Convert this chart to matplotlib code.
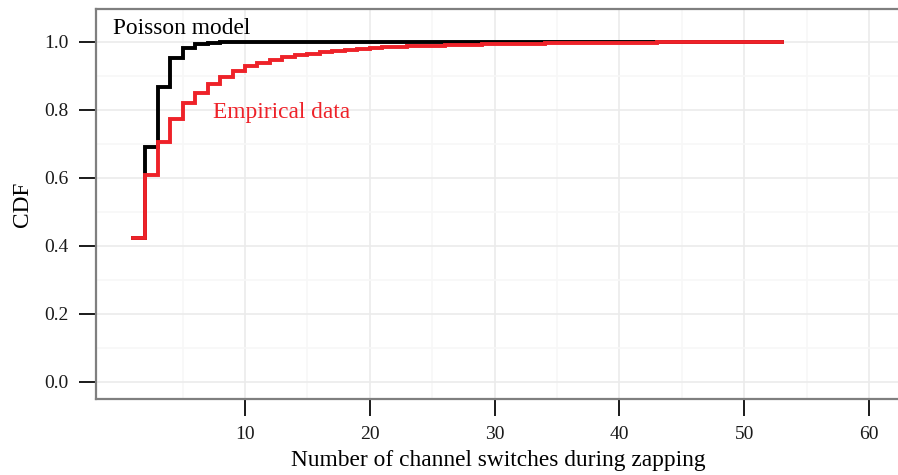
import matplotlib
matplotlib.use("Agg")
import matplotlib.pyplot as plt
from matplotlib.ticker import FixedLocator

plt.rcParams['font.family'] = ['Liberation Serif', 'DejaVu Serif']

# Data
switches = list(range(1, 54))
empirical_cdf = [0.423, 0.609, 0.707, 0.773, 0.820, 0.851, 0.877, 0.897, 0.914, 0.928,
                 0.939, 0.948, 0.955, 0.961, 0.966, 0.970, 0.974, 0.977, 0.980, 0.982,
                 0.984, 0.986, 0.987, 0.988, 0.989, 0.990, 0.991, 0.992, 0.993, 0.993,
                 0.994, 0.995, 0.995, 0.996, 0.996, 0.997, 0.997, 0.997, 0.998, 0.998,
                 0.998, 0.998, 0.999, 0.999, 0.999, 0.999, 0.999, 0.999, 0.9995, 0.9995,
                 0.9997, 0.9998, 1.0]
poisson_cdf = [0.423, 0.692, 0.867, 0.952, 0.982, 0.993, 0.997, 0.999] + [1.0] * 45

x_major = [10, 20, 30, 40, 50, 60]
x_minor = [5, 15, 25, 35, 45, 55]
y_major = [0.0, 0.2, 0.4, 0.6, 0.8, 1.0]
y_minor = [0.1, 0.3, 0.5, 0.7, 0.9]
y_ticklabels = ["0.0", "0.2", "0.4", "0.6", "0.8", "1.0"]

W, H = 898, 475
fig = plt.figure(figsize=(W / 100, H / 100), dpi=100)
l, r, b, t = 96, 901, 399, 9
ax = fig.add_axes([l / W, (H - b) / H, (r - l) / W, (b - t) / H])

ax.set_xlim(-1.94, -1.94 + (r - l) / 12.48)
ax.set_ylim(-0.05, 1.097)

ax.xaxis.set_major_locator(FixedLocator(x_major))
ax.xaxis.set_minor_locator(FixedLocator(x_minor))
ax.yaxis.set_major_locator(FixedLocator(y_major))
ax.yaxis.set_minor_locator(FixedLocator(y_minor))
ax.set_yticklabels(y_ticklabels)

ax.grid(which='major', color='#EBEBEB', linewidth=1.2)
ax.grid(which='minor', color='#F7F7F7', linewidth=1.2)
ax.set_axisbelow(True)

ax.step(switches, poisson_cdf, where='post', color='black', linewidth=2.8,
        solid_joinstyle='miter', zorder=3)
ax.step(switches, empirical_cdf, where='post', color='#EE2229', linewidth=2.8,
        solid_joinstyle='miter', zorder=4)

for s in ax.spines.values():
    s.set_color('#7F7F7F')
    s.set_linewidth(1.6)

ax.tick_params(which='major', direction='out', length=12.5, width=1.4, color='#1a1a1a',
               labelsize=14, pad=7, labelcolor='#1a1a1a')
ax.tick_params(which='minor', length=0)

ax.text(-0.58, 1.023, "Poisson model", fontsize=16.8, color='black', va='baseline', ha='left')
ax.text(7.44, 0.776, "Empirical data", fontsize=16.8, color='#EE2229', va='baseline', ha='left')

ax.set_xlabel("Number of channel switches during zapping", fontsize=16.8, labelpad=5)
ax.set_ylabel("CDF", fontsize=16.8, labelpad=8)

fig.savefig("out.png", dpi=100)
